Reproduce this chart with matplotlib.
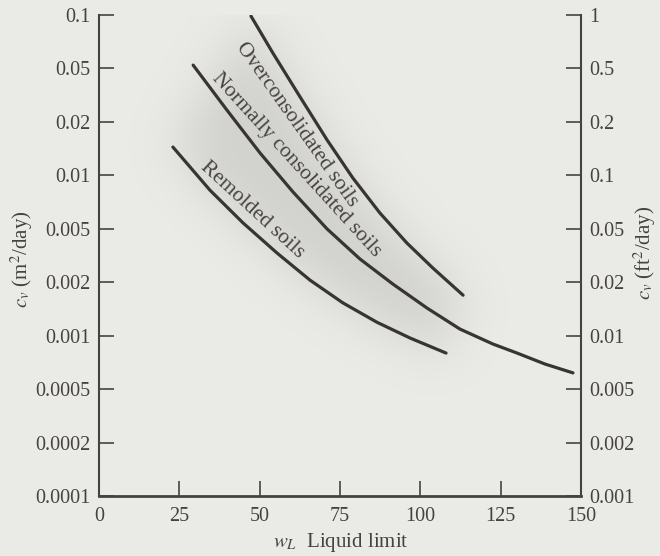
import numpy as np
import matplotlib
matplotlib.use('Agg')
import matplotlib.pyplot as plt
from matplotlib.path import Path

# liquid limit wL and cv (m2/day)
wl_over = [47.3, 54.1, 62.6, 71.0, 79.0, 87.4, 95.8, 103.9, 113.3]
cv_over = [0.0986, 0.0611, 0.0306, 0.0158, 0.00966, 0.00614, 0.00392, 0.00255, 0.00169]
wl_normal = [29.3, 39.8, 50.1, 60.4, 71.0, 81.2, 91.5, 102.1, 112.3, 122.6, 130.1, 138.8, 147.5]
cv_normal = [0.0522, 0.0245, 0.01337, 0.00805, 0.00498, 0.00298, 0.00195, 0.00143,
             0.00109, 0.000897, 0.000798, 0.000692, 0.000617]
wl_remold = [23.0, 34.5, 44.8, 55.4, 65.7, 75.9, 86.5, 96.8, 108.0]
cv_remold = [0.01443, 0.00826, 0.00540, 0.00330, 0.00207, 0.00153, 0.00119, 0.000970, 0.000798]

x_ticks = [0, 25, 50, 75, 100, 125, 150]
y_ticks = [0.0001, 0.0002, 0.0005, 0.001, 0.002, 0.005, 0.01, 0.02, 0.05, 0.1]
y_labels = ['0.0001', '0.0002', '0.0005', '0.001', '0.002', '0.005', '0.01', '0.02', '0.05', '0.1']
y2_ticks = [0.001, 0.002, 0.005, 0.01, 0.02, 0.05, 0.1, 0.2, 0.5, 1]
y2_labels = ['0.001', '0.002', '0.005', '0.01', '0.02', '0.05', '0.1', '0.2', '0.5', '1']

ink = '#474242'
line_c = '#393434'
bg = '#eaebe7'

plt.rcParams['font.family'] = ['Liberation Serif', 'DejaVu Serif']
plt.rcParams['mathtext.fontset'] = 'stix'


def even_log(ticks):
    # the printed axis spaces 1-2-5 ticks evenly, so map log values piecewise
    lt = np.log10(ticks)
    ix = np.arange(len(ticks), dtype=float)

    def fwd(v):
        v = np.asarray(v, float)
        with np.errstate(divide='ignore', invalid='ignore'):
            lv = np.log10(np.where(v > 0, v, np.nan))
        out = np.interp(lv, lt, ix)
        out = np.where(lv < lt[0], (lv - lt[0]) / (lt[1] - lt[0]), out)
        out = np.where(lv > lt[-1], ix[-1] + (lv - lt[-1]) / (lt[-1] - lt[-2]), out)
        return out

    def inv(p):
        p = np.asarray(p, float)
        out = np.interp(p, ix, lt)
        out = np.where(p < 0, lt[0] + p * (lt[1] - lt[0]), out)
        out = np.where(p > ix[-1], lt[-1] + (p - ix[-1]) * (lt[-1] - lt[-2]), out)
        return 10 ** out

    return fwd, inv


fig = plt.figure(figsize=(6.6, 5.56), dpi=100, facecolor=bg)
ax = fig.add_axes([99 / 660, 60 / 556, 482 / 660, 481 / 556], facecolor=bg)
ax.set_yscale('function', functions=even_log(y_ticks))
ax.set_xlim(0, 150)
ax.set_ylim(y_ticks[0], y_ticks[-1])

for xs, ys in [(wl_over, cv_over), (wl_normal, cv_normal), (wl_remold, cv_remold)]:
    ax.plot(xs, ys, color=line_c, lw=2.3, solid_capstyle='round', solid_joinstyle='round', zorder=3)

# soft grey shadow behind the curves
to_ax = lambda xs, ys: ax.transAxes.inverted().transform(ax.transData.transform(np.c_[xs, ys]))
poly = np.vstack([to_ax(wl_over, cv_over), to_ax(wl_remold, cv_remold)[::-1]])
n = 240
gx, gy = np.meshgrid((np.arange(n) + 0.5) / n, (np.arange(n) + 0.5) / n)
mask = Path(poly).contains_points(np.c_[gx.ravel(), gy.ravel()]).reshape(n, n).astype(float)
k = np.exp(-0.5 * (np.arange(-36, 37) / 12.0) ** 2)
k /= k.sum()
blur = np.apply_along_axis(lambda r: np.convolve(r, k, mode='same'), 0, mask)
blur = np.apply_along_axis(lambda r: np.convolve(r, k, mode='same'), 1, blur)
rgba = np.zeros((n, n, 4))
rgba[..., :3] = (0.62, 0.62, 0.60)
rgba[..., 3] = 0.32 * blur
ax.imshow(rgba, origin='lower', extent=(0, 1, 0, 1), transform=ax.transAxes,
          aspect='auto', interpolation='bilinear', zorder=0)
ax.set_xlim(0, 150)
ax.set_ylim(y_ticks[0], y_ticks[-1])

ax.set_xticks(x_ticks)
ax.set_yticks(y_ticks)
ax.set_yticklabels(y_labels)
ax.minorticks_off()
ax.tick_params(direction='in', length=11, width=1.2, colors=ink, labelsize=14.5)
ax.tick_params(axis='y', pad=6)
ax.tick_params(axis='x', pad=8)

ax.spines['top'].set_visible(False)
for s in ['left', 'right', 'bottom']:
    ax.spines[s].set_color(ink)
    ax.spines[s].set_linewidth(1.5)
ax.spines['bottom'].set_linewidth(2)

ax2 = ax.twinx()
ax2.set_yscale('function', functions=even_log(y2_ticks))
ax2.set_ylim(y2_ticks[0], y2_ticks[-1])
ax2.set_yticks(y2_ticks)
ax2.set_yticklabels(y2_labels)
ax2.minorticks_off()
ax2.tick_params(direction='in', length=11, width=1.2, colors=ink, labelsize=14.5, pad=6)
for s in ax2.spines.values():
    s.set_visible(False)

# curve labels
ax.text(0.410, 0.7715, 'Overconsolidated soils', transform=ax.transAxes, rotation=-54.6,
        ha='center', va='center', rotation_mode='anchor', fontsize=15.5, color=ink)
ax.text(0.410, 0.688, 'Normally consolidated soils', transform=ax.transAxes, rotation=-47.7,
        ha='center', va='center', rotation_mode='anchor', fontsize=15.5, color=ink)
ax.text(0.3185, 0.5946, 'Remolded soils', transform=ax.transAxes, rotation=-42.6,
        ha='center', va='center', rotation_mode='anchor', fontsize=15.5, color=ink)

fig.text(22 / 660, 1 - 259 / 556, '$c_v$ (m$^2$/day)', rotation=90, ha='center', va='center',
         fontsize=15, color=ink)
fig.text(645 / 660, 1 - 253 / 556, '$c_v$ (ft$^2$/day)', rotation=90, ha='center', va='center',
         fontsize=15, color=ink)
fig.text(341 / 660, 1 - 542 / 556, '$w_L$  Liquid limit', ha='center', va='center',
         fontsize=15, color=ink)

fig.savefig('out.png', dpi=100, facecolor=bg)
